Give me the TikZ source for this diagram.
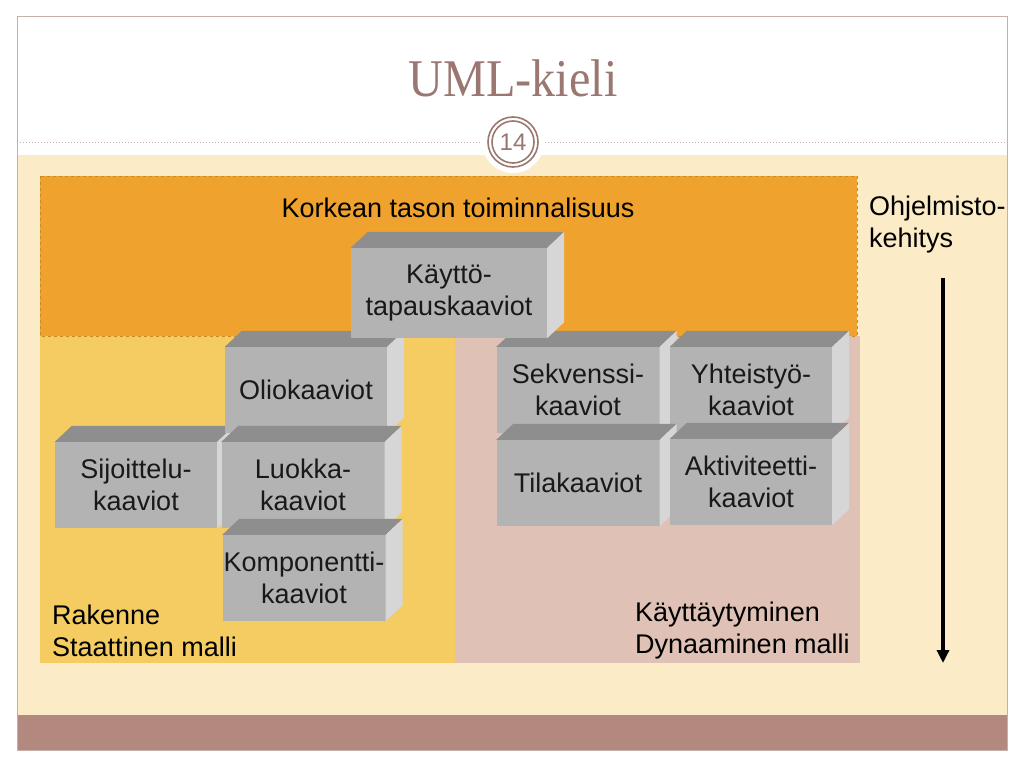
\documentclass[tikz,border=0pt]{standalone}
\usepackage{fontspec}
\setmainfont{Liberation Sans}
\newfontfamily\otsikkofont{Liberation Serif}
\usetikzlibrary{
    positioning,
    calc,
    arrows.meta}

\definecolor{kehys}{HTML}{C4B0A8}
\definecolor{kerma}{HTML}{FBEBC7}
\definecolor{ruskea}{HTML}{B3887E}
\definecolor{otsikko}{HTML}{9A7770}
\definecolor{oranssi}{HTML}{F0A22E}
\definecolor{tummaoranssi}{HTML}{C98A2A}
\definecolor{keltainen}{HTML}{F4CC62}
\definecolor{roosa}{HTML}{DFC1B6}
\definecolor{harmaa}{HTML}{B3B3B3}
\definecolor{tummaharmaa}{HTML}{8E8E8E}
\definecolor{vaaleaharmaa}{HTML}{D6D6D6}

\begin{document}
\begin{tikzpicture}[x=1pt,y=-1pt,
    etupinta/.style={fill=harmaa, inner sep=0pt, align=center, text=black!90,
        font=\fontsize{27}{32}\selectfont},
    kansi/.style={fill=tummaharmaa},
    kylki/.style={fill=vaaleaharmaa},
    teksti/.style={inner sep=0pt, align=left, font=\fontsize{27}{32}\selectfont}]
\newcommand{\syvyysx}{17}
\newcommand{\syvyysy}{16}

\useasboundingbox[fill=white] (0,0) rectangle (1024,768);

\fill[kerma] (17,155) rectangle (1007,715);
\fill[ruskea] (17,715) rectangle (1007,750);
\draw[kehys, line width=1pt] (17,17) rectangle (1007,750);
\draw[kehys, line width=1pt, dotted] (17,142) -- (1007,142);

\node[circle, fill=white, minimum size=62pt, inner sep=0pt] (sivupohja) at (513,142) {};
\node[circle, draw=otsikko, line width=1.6pt, fill=white, minimum size=50pt, inner sep=0pt] (sivu) at (513,142) {};
\node[circle, draw=otsikko, line width=1.6pt, minimum size=42pt, inner sep=0pt,
    text=otsikko, font=\fontsize{24}{24}\selectfont] (sivunro) at (513,142) {14};

\node[text=otsikko, font=\otsikkofont\fontsize{53}{53}\selectfont] (otsikko) at (513,78) {\scalebox{0.91}[1]{UML-kieli}};

\fill[keltainen] (40,336) rectangle (455,663);
\fill[roosa] (455,336) rectangle (860,663);
\path [fill=oranssi, draw=tummaoranssi, dashed, line width=0.8pt] (40,176) rectangle (857,336);

\node[teksti] (korkea) at (458,208) {Korkean tason toiminnalisuus};

\foreach \nimi/\px/\py/\leveys/\korkeus/\teksti in {
    sijoittelu/136/485/162/86/{Sijoittelu-\\kaaviot},
    olio/306/390/162/86/{Oliokaaviot},
    luokka/303/485/163/86/{Luokka-\\kaaviot},
    komponentti/304/578/163/86/{Komponentti-\\kaaviot},
    sekvenssi/578/390/163/86/{Sekvenssi-\\kaaviot},
    yhteistyo/751/390/162/86/{Yhteistyö-\\kaaviot},
    tila/578/483/163/86/{Tilakaaviot},
    aktiviteetti/751/482/162/86/{Aktiviteetti-\\kaaviot},
    kaytto/449/293/196/90/{Käyttö-\\tapauskaaviot}}
{
    \node[etupinta, minimum width=\leveys pt, minimum height=\korkeus pt] (\nimi) at (\px,\py) {\teksti};
    \fill[kansi] (\nimi.north west) -- ($(\nimi.north west)+(\syvyysx,-\syvyysy)$)
        -- ($(\nimi.north east)+(\syvyysx,-\syvyysy)$) -- (\nimi.north east) -- cycle;
    \fill[kylki] (\nimi.north east) -- ($(\nimi.north east)+(\syvyysx,-\syvyysy)$)
        -- ($(\nimi.south east)+(\syvyysx,-\syvyysy)$) -- (\nimi.south east) -- cycle;
}

\node[teksti, anchor=west] (rakenne) at (52,631) {Rakenne\\Staattinen malli};
\node[teksti, anchor=west] (kaytos) at (635,631) {Käyttäytyminen\\Dynaaminen malli};
\node[teksti, anchor=west] (ohjelmisto) at (869,225) {Ohjelmisto-\\kehitys};

\coordinate (alku) at (943,278);
\coordinate (loppu) at (943,663);
\draw[line width=3.5pt, -{Triangle[length=13pt,width=12pt]}] (alku) -- (loppu);

\end{tikzpicture}
\end{document}
